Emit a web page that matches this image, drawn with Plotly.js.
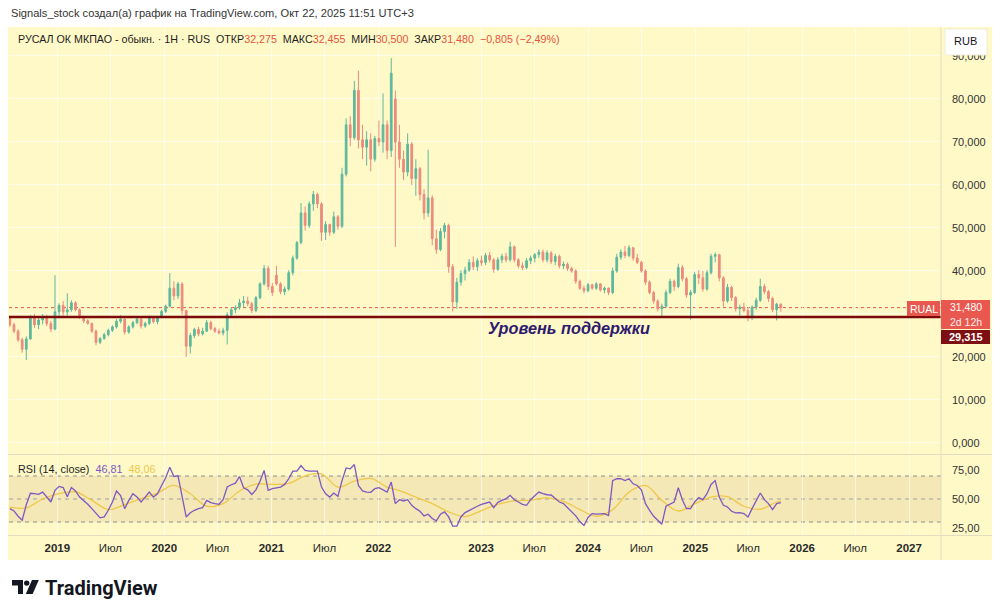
<!DOCTYPE html>
<html><head><meta charset="utf-8">
<script src="https://cdn.plot.ly/plotly-3.0.1.min.js"></script>
<style>html,body{margin:0;padding:0;background:#fff;}#chart{width:1000px;height:616px;}</style>
</head><body><div id="chart"></div>
<script>
// ---- time index: bi-weekly bars, MOEX closure bar skipped ----
const startDate = '2018-07-23';
const stepDays = 14;
const lastIndex = 189;
const closedIndex = 94;
const closedBreak = ['2022-02-28', '2022-03-14'];

// ---- OHLC (thousand RUB) ----
const open = [
29.0,27.5,26.0,24.0,21.8,24.2,29.0,27.5,28.6,29.4,
27.8,26.5,30.5,32.0,30.5,31.0,32.6,31.0,29.2,28.4,
27.8,26.0,23.4,24.3,25.2,26.2,27.0,28.3,28.8,25.8,
27.0,28.0,28.8,27.2,27.8,29.2,28.2,29.2,30.6,31.8,
36.0,34.2,37.0,30.8,22.5,25.0,26.4,25.4,26.0,28.0,
26.6,26.0,25.6,26.2,29.8,31.0,31.5,32.6,33.0,32.4,
30.8,33.8,37.0,40.6,36.4,39.0,37.0,35.2,35.8,39.6,
43.0,46.6,53.5,50.6,55.6,57.8,55.6,49.0,50.8,49.0,
52.6,50.4,62.5,74.0,71.0,82.0,70.5,68.8,70.5,66.0,
70.8,70.0,74.0,68.0,
80.0,70.0,66.0,63.0,69.5,
61.5,63.8,57.8,53.5,57.0,47.5,45.0,49.2,50.6,41.0,
32.8,37.4,39.4,40.2,42.0,41.0,42.4,42.0,43.6,42.6,
40.4,42.6,43.4,42.6,45.6,42.6,41.2,40.8,42.4,43.0,
43.8,44.4,42.6,44.2,42.2,43.4,41.2,41.6,40.6,40.0,
37.6,36.0,35.4,36.8,36.0,37.0,35.6,36.0,35.0,40.0,
43.2,44.4,43.6,45.4,43.0,42.0,40.0,37.4,35.0,33.0,
31.2,31.8,35.0,37.6,36.4,40.8,38.2,34.4,35.0,39.2,
38.4,35.8,39.6,43.4,43.8,38.4,33.0,36.2,33.8,31.2,
31.6,30.8,29.2,31.6,33.2,36.4,35.2,33.6,31.0,32.275];
const high = [
29.6,28.0,26.5,24.5,24.8,29.8,30.0,29.2,30.0,29.8,
28.4,39.0,32.5,33.0,34.8,33.2,33.0,31.3,29.6,28.8,
28.0,26.4,24.6,25.6,26.6,27.4,28.8,29.7,29.0,27.4,
28.4,29.2,29.0,28.2,29.6,29.4,29.6,31.0,32.2,39.5,
37.6,37.5,37.4,31.0,25.6,26.8,27.0,26.8,28.6,28.4,
27.0,26.6,26.8,30.4,31.6,32.0,33.5,34.2,34.0,32.8,
34.2,37.4,41.4,41.2,37.2,41.2,37.4,36.4,40.2,43.6,
47.0,55.8,55.0,56.2,58.6,58.2,56.0,51.6,51.0,53.8,
53.0,64.0,75.5,76.0,84.2,86.6,74.0,72.5,72.0,71.4,
75.0,81.3,75.0,89.5,
82.0,74.0,68.0,72.0,70.0,
66.0,64.2,59.0,68.2,57.6,49.6,50.0,51.2,51.0,41.6,
38.4,40.2,41.0,42.8,43.4,43.0,43.6,44.2,44.4,43.0,
43.2,44.0,44.2,46.8,46.0,43.0,42.0,43.0,43.6,44.2,
45.0,45.0,44.8,44.6,44.0,43.8,42.2,42.0,41.0,40.4,
38.0,36.6,37.2,37.0,37.4,37.2,36.4,36.2,40.8,44.0,
45.0,45.8,46.0,45.6,44.0,42.4,40.4,37.8,35.4,33.4,
32.4,35.6,38.2,38.0,41.7,41.4,38.6,35.6,39.8,40.2,
40.0,40.2,44.0,44.3,44.0,38.8,37.0,36.6,34.2,32.2,
32.6,31.6,32.0,33.8,38.2,37.0,35.6,34.0,32.6,32.455];
const low = [
27.0,25.5,23.5,21.0,19.3,24.0,26.8,26.5,27.6,27.2,
25.8,26.2,29.0,29.6,29.6,30.5,30.6,28.8,27.9,27.5,
25.6,22.7,23.0,24.0,24.8,25.8,26.6,27.8,25.2,25.4,
26.6,27.6,26.6,26.8,27.4,27.8,27.6,29.0,30.2,31.5,
33.2,33.5,29.8,20.0,20.8,24.4,24.8,25.0,25.8,26.2,
25.6,25.2,25.0,22.9,29.4,30.2,31.0,31.6,31.8,30.2,
30.4,33.4,36.6,35.6,34.2,36.6,34.6,34.4,35.4,39.0,
42.6,46.2,49.4,50.0,54.0,54.6,47.0,47.2,48.2,48.6,
49.6,50.0,62.0,69.0,70.5,68.5,66.0,64.5,63.2,65.4,
69.0,67.5,66.0,66.5,
45.6,64.0,61.2,62.0,60.0,
57.5,56.4,52.0,52.6,46.0,44.0,44.6,47.6,39.6,30.6,
31.2,36.6,37.8,39.8,40.2,40.0,41.2,41.4,42.0,39.6,
40.0,41.8,42.0,42.2,42.0,40.6,40.2,40.4,41.6,42.0,
43.0,42.0,42.0,41.6,41.4,40.6,40.4,40.0,39.6,37.0,
35.6,34.8,35.0,35.6,35.6,35.2,34.8,34.4,34.6,39.6,
42.6,43.0,43.2,42.4,41.6,39.6,36.8,34.6,32.4,30.6,
29.4,31.4,34.6,35.4,36.0,37.6,33.8,28.7,34.6,37.0,
35.2,35.4,39.2,42.0,37.6,31.7,32.6,33.0,30.6,29.6,
30.4,28.3,28.6,31.0,32.8,34.6,32.8,30.4,28.5,30.5];
const close = [
27.5,26.0,24.0,21.8,24.2,29.0,27.5,28.6,29.4,27.8,
26.5,30.5,32.0,30.5,31.0,32.6,31.0,29.2,28.4,27.8,
26.0,23.4,24.3,25.2,26.2,27.0,28.3,28.8,25.8,27.0,
28.0,28.8,27.2,27.8,29.2,28.2,29.2,30.6,31.8,36.0,
34.2,37.0,30.8,22.5,25.0,26.4,25.4,26.0,28.0,26.6,
26.0,25.6,26.2,29.8,31.0,31.5,32.6,33.0,32.4,30.8,
33.8,37.0,40.6,36.4,35.0,37.0,35.2,35.8,39.6,43.0,
46.6,53.5,50.6,55.6,57.8,55.6,49.0,50.8,49.0,52.6,
50.4,62.5,74.0,71.0,82.0,70.5,68.8,70.5,66.0,70.8,
70.0,74.0,68.0,86.0,
70.0,66.0,63.0,69.5,61.5,
63.8,57.8,53.5,57.0,47.5,45.0,49.2,50.6,41.0,32.8,
37.4,39.4,40.2,42.0,41.0,42.4,42.0,43.6,42.6,40.4,
42.6,43.4,42.6,45.6,42.6,41.2,40.8,42.4,43.0,43.8,
44.4,42.6,44.2,42.2,43.4,41.2,41.6,40.6,40.0,37.6,
36.0,35.4,36.8,36.0,37.0,35.6,36.0,35.0,40.0,43.2,
44.4,43.6,45.4,43.0,42.0,40.0,37.4,35.0,33.0,31.2,
31.8,35.0,37.6,36.4,40.8,38.2,34.4,35.0,39.2,38.4,
35.8,39.6,43.4,43.8,38.4,33.0,36.2,33.8,31.2,31.6,
30.8,29.2,31.6,33.2,36.4,35.2,33.6,31.0,32.3,31.48];

// ---- RSI (14, close) and its MA ----
const rsi = [
41.6,39.6,35.0,31.6,45.0,55.0,54.6,54.0,56.0,52.0,
47.4,57.5,61.0,60.0,52.0,60.0,57.0,51.7,48.8,45.4,
41.6,37.3,33.6,34.4,40.2,47.4,57.0,53.0,41.6,48.8,
54.6,51.7,47.4,51.7,56.0,51.7,54.6,61.8,68.4,77.6,
69.6,70.2,51.7,34.4,38.0,40.2,41.6,42.5,48.8,46.8,
46.0,45.4,49.4,60.4,62.4,63.8,69.6,59.8,58.0,54.0,
58.0,65.5,74.8,57.5,59.0,60.0,60.4,62.7,67.6,74.2,
74.2,79.0,74.8,74.2,74.2,74.2,60.4,54.6,51.7,55.2,
52.3,66.0,77.0,76.2,80.0,61.8,57.0,56.0,55.8,59.0,
59.8,58.0,56.0,64.7,
46.0,49.4,48.3,49.4,44.5,
41.6,39.3,35.3,36.8,33.0,31.0,36.8,38.8,34.4,26.4,
26.4,34.4,38.2,40.2,42.2,43.7,45.4,46.5,47.4,42.5,
47.1,48.8,50.3,53.2,49.4,47.4,45.4,44.5,49.4,52.9,
56.0,54.6,53.7,53.5,50.3,47.4,46.0,42.5,38.8,35.3,
30.4,27.0,33.9,37.3,36.8,36.8,37.3,35.6,66.0,67.6,
67.6,66.0,67.6,63.2,61.8,58.0,46.0,40.2,35.0,31.6,
28.1,43.7,45.4,47.4,59.8,49.4,41.6,41.6,47.4,51.2,
49.4,54.6,62.7,66.0,51.7,44.5,43.1,39.3,37.9,38.2,
37.3,34.4,41.6,48.8,55.2,49.4,46.0,40.8,46.0,46.81];
const rsiMaIdx = [0,4,8,12,16,20,24,28,32,36,40,44,48,52,56,60,64,68,72,76,80,84,88,92,
  96,100,104,108,112,116,120,124,128,132,136,140,144,148,152,156,160,164,168,172,176,180,184,188,189];
const rsiMa = [43,42.2,50,54.6,56.3,48.8,40.8,45.1,50.3,55.2,61.8,54.6,43.7,46,57,63,62.7,63.5,70.2,71.9,60.4,65.5,67.9,60.4,
  57.2,51.7,46,38.8,34.7,39.9,45.4,48.3,49.1,50.9,48,40.8,35,40.8,56,61.8,48.8,39.6,45.7,51.7,52,43.7,41.1,47.4,48.06];

// ---- levels and axis labels ----
const supportLevel = 29.315;
const lastPrice = 31.48;
const priceTickVals = [0,10,20,30,40,50,60,70,80,90];
// 30,000 is hidden behind the price labels in the original
const priceTickText = ['0,000','10,000','20,000','','40,000','50,000','60,000','70,000','80,000','90,000'];
const rsiTickVals = [25,50,75];
const rsiTickText = ['25,00','50,00','75,00'];
const timeTickVals = ['2019-01-01','2019-07-01','2020-01-01','2020-07-01','2021-01-01','2021-07-01','2022-01-01',
  '2023-01-01','2023-07-01','2024-01-01','2024-07-01','2025-01-01','2025-07-01','2026-01-01','2026-07-01','2027-01-01'];
const timeTickText = ['<b>2019</b>','Июл','<b>2020</b>','Июл','<b>2021</b>','Июл','<b>2022</b>',
  '<b>2023</b>','Июл','<b>2024</b>','Июл','<b>2025</b>','Июл','<b>2026</b>','Июл','<b>2027</b>'];

function dateOf(i){
  const d = new Date(startDate + 'T00:00:00Z');
  d.setUTCDate(d.getUTCDate() + stepDays * i);
  return d.toISOString().slice(0,10);
}
const dates = [];
for (let i = 0; i <= lastIndex; i++) { if (i !== closedIndex) dates.push(dateOf(i)); }
const maDates = rsiMaIdx.map(dateOf);

// ---- geometry helpers (pixel -> paper) ----
const M = {l:9, r:59, t:27, b:81};
const PW = 1000 - M.l - M.r, PH = 616 - M.t - M.b;
const fx = px => (px - M.l) / PW;
const fy = py => (616 - M.b - py) / PH;
function pathPx(pts){ return 'M' + pts.map(p => fx(p[0]) + ',' + fy(p[1])).join('L') + 'Z'; }

const BG = '#fff9c8';
const GRID = 'rgba(255,255,255,0.6)';
const SEP = '#e3dcbf';
const G = '#5fb89c', R = '#eb8b7e';
const FONT = 'Liberation Sans, Arial, sans-serif';

const traces = [
  {type:'candlestick', x:dates, open:open, high:high, low:low, close:close, xaxis:'x', yaxis:'y',
   increasing:{line:{color:G, width:1}, fillcolor:G}, decreasing:{line:{color:R, width:1}, fillcolor:R},
   whiskerwidth:0, hoverinfo:'skip', showlegend:false},
  {type:'scatter', mode:'lines', x:maDates, y:rsiMa, xaxis:'x', yaxis:'y2',
   line:{color:'#efc84a', width:1.3, shape:'spline'}, hoverinfo:'skip', showlegend:false},
  {type:'scatter', mode:'lines', x:dates, y:rsi, xaxis:'x', yaxis:'y2',
   line:{color:'#7e57c2', width:1.3}, hoverinfo:'skip', showlegend:false}
];

const shapes = [
  {type:'rect', xref:'paper', yref:'paper', x0:fx(8), x1:fx(992), y0:fy(560), y1:fy(27), fillcolor:BG, line:{width:0}, layer:'below'},
  {type:'rect', xref:'paper', yref:'y2', x0:0, x1:1, y0:30, y1:70, fillcolor:'rgba(200,165,115,0.2)', line:{width:0}, layer:'below'},
  {type:'line', xref:'paper', yref:'y2', x0:0, x1:1, y0:70, y1:70, line:{color:'#909090', width:1, dash:'4px,4px'}, layer:'below'},
  {type:'line', xref:'paper', yref:'y2', x0:0, x1:1, y0:50, y1:50, line:{color:'#a0a0a0', width:1, dash:'4px,4px'}, layer:'below'},
  {type:'line', xref:'paper', yref:'y2', x0:0, x1:1, y0:30, y1:30, line:{color:'#909090', width:1, dash:'4px,4px'}, layer:'below'},
  {type:'line', xref:'paper', yref:'y', x0:0, x1:1, y0:lastPrice, y1:lastPrice, line:{color:'#e8574f', width:1, dash:'dot'}, layer:'below'},
  {type:'line', xref:'paper', yref:'y', x0:0, x1:1, y0:supportLevel, y1:supportLevel, line:{color:'#7b0b0b', width:2.6}},
  {type:'line', xref:'paper', yref:'paper', x0:fx(8), x1:fx(992), y0:fy(454.5), y1:fy(454.5), line:{color:SEP, width:1}},
  {type:'line', xref:'paper', yref:'paper', x0:fx(8), x1:fx(992), y0:fy(535.5), y1:fy(535.5), line:{color:SEP, width:1}},
  {type:'line', xref:'paper', yref:'paper', x0:fx(941), x1:fx(941), y0:fy(560), y1:fy(27), line:{color:SEP, width:1}},
  {type:'rect', xref:'paper', yref:'paper', x0:fx(907), x1:fx(940), y0:fy(316), y1:fy(301), fillcolor:'#e9584f', line:{width:0}},
  {type:'rect', xref:'paper', yref:'paper', x0:fx(941), x1:fx(990), y0:fy(329), y1:fy(300), fillcolor:'#e9584f', line:{width:0}},
  {type:'rect', xref:'paper', yref:'paper', x0:fx(941), x1:fx(990), y0:fy(344), y1:fy(330), fillcolor:'#7d0f12', line:{width:0}},
  {type:'rect', xref:'paper', yref:'paper', x0:fx(945), x1:fx(987), y0:fy(55), y1:fy(29), fillcolor:'#ffffff', line:{color:'#f0ecd8', width:1}},
  // TradingView logo
  {type:'path', xref:'paper', yref:'paper', path:pathPx([[12,580],[23,580],[23,594],[18,594],[18,585.5],[12,585.5]]), fillcolor:'#131722', line:{width:0}},
  {type:'circle', xref:'paper', yref:'paper', x0:fx(24), x1:fx(29.4), y0:fy(585.8), y1:fy(580.4), fillcolor:'#131722', line:{width:0}},
  {type:'path', xref:'paper', yref:'paper', path:pathPx([[32,580],[38.8,580],[32.6,594],[25.8,594]]), fillcolor:'#131722', line:{width:0}}
];

const ann = (o) => Object.assign({xref:'paper', yref:'paper', showarrow:false, xanchor:'left', yanchor:'middle'}, o);
const VAL = c => '<span style="color:#e4543f">' + c + '</span>';
const SP = '\u00a0\u00a0';
const annotations = [
  ann({x:fx(9), y:fy(13), text:'Signals_stock создал(а) график на TradingView.com, Окт 22, 2025 11:51 UTC+3',
       font:{family:FONT, size:11.1, color:'#333333'}}),
  ann({x:fx(16), y:fy(39), text:'РУСАЛ ОК МКПАО - обыкн. · 1Н · RUS' + SP + 'ОТКР' + VAL('32,275') + SP + 'МАКС' + VAL('32,455') + SP +
       'МИН' + VAL('30,500') + SP + 'ЗАКР' + VAL('31,480') + SP + VAL('−0,805 (−2,49%)'),
       font:{family:FONT, size:10.7, color:'#1e1e1e'}}),
  ann({x:fx(16), y:fy(469), text:'RSI (14, close)' + SP + '<span style="color:#7e57c2">46,81</span>' + SP + '<span style="color:#efc84a">48,06</span>',
       font:{family:FONT, size:10.8, color:'#1e1e1e'}}),
  ann({x:fx(569), y:fy(328), xanchor:'center', text:'<b><i>Уровень поддержки</i></b>',
       font:{family:FONT, size:16.3, color:'#2e1a6e'}}),
  ann({x:fx(923.5), y:fy(308.5), xanchor:'center', text:'RUAL', font:{family:FONT, size:10.5, color:'#ffffff'}}),
  ann({x:fx(965.5), y:fy(307), xanchor:'center', text:'31,480', font:{family:FONT, size:10.5, color:'#ffffff'}, borderpad:0}),
  ann({x:fx(965.5), y:fy(322), xanchor:'center', text:'2d 12h', font:{family:FONT, size:10.5, color:'#ffecea'}, borderpad:0}),
  ann({x:fx(965.5), y:fy(337), xanchor:'center', text:'<b>29,315</b>', font:{family:FONT, size:11, color:'#ffffff'}}),
  ann({x:fx(966), y:fy(41), xanchor:'center', text:'RUB', font:{family:FONT, size:11, color:'#131722'}}),
  ann({x:fx(43), y:fy(588), text:'<b>TradingView</b>', font:{family:'Roboto, sans-serif', size:20, color:'#131722'}})
];

const layout = {
  width:1000, height:616, margin:M,
  paper_bgcolor:'#ffffff', plot_bgcolor:BG,
  showlegend:false, hovermode:false, boxgap:0.4,
  xaxis:{type:'date', anchor:'y2', range:['2018-07-20','2027-04-20'], rangebreaks:[{bounds:closedBreak}],
    tickmode:'array', tickvals:timeTickVals, ticktext:timeTickText, ticks:'', ticklabelstandoff:4,
    showgrid:true, gridcolor:GRID, gridwidth:1, zeroline:false, showline:false,
    tickfont:{family:FONT, size:11.5, color:'#2a2a2a'}, rangeslider:{visible:false}, automargin:false, fixedrange:true},
  yaxis:{domain:[fy(454), 1], range:[-2.56, 96.74], side:'right', tickmode:'array', tickvals:priceTickVals, ticktext:priceTickText,
    ticks:'', ticklabelstandoff:10, showgrid:true, gridcolor:GRID, gridwidth:1, zeroline:false, showline:false,
    tickfont:{family:FONT, size:11, color:'#333333'}, automargin:false, fixedrange:true},
  yaxis2:{domain:[0, fy(456)], range:[18.7, 87.4], side:'right', tickmode:'array', tickvals:rsiTickVals, ticktext:rsiTickText,
    ticks:'', ticklabelstandoff:10, showgrid:false, zeroline:false, showline:false,
    tickfont:{family:FONT, size:11, color:'#333333'}, automargin:false, fixedrange:true},
  shapes:shapes, annotations:annotations
};

Plotly.newPlot('chart', traces, layout, {displayModeBar:false, staticPlot:true});
</script>
</body></html>
